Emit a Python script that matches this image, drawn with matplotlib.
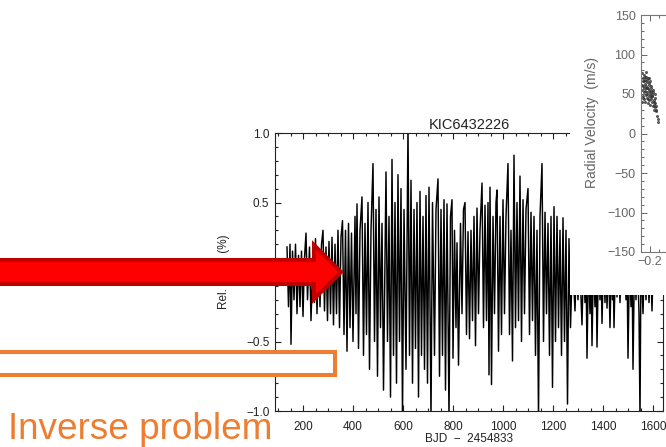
import matplotlib
matplotlib.use('Agg')
import matplotlib.pyplot as plt
from matplotlib.patches import Polygon, Rectangle
from matplotlib.ticker import MultipleLocator

plt.rcParams['font.family'] = ['Liberation Sans', 'DejaVu Sans']

W, H = 666, 447

# ---------------- data ----------------
lc_title = "KIC6432226"
lc_xlabel = "BJD  \u2212  2454833"
lc_ylabel = "Rel.  Flux  (%)"
lc_xticks = [200, 400, 600, 800, 1000, 1200, 1400, 1600]
lc_yticks = [-1.0, -0.5, 0.0, 0.5, 1.0]

bjd = [136, 142, 148, 152, 158, 164, 170, 176, 182, 188, 194, 200, 206, 212, 218, 226,
       232, 240, 246, 250, 256, 262, 268, 274, 280, 286, 292, 298, 304, 310, 316, 322,
       328, 334, 340, 346, 352, 358, 364, 370, 376, 382, 388, 394, 400, 408, 412, 416,
       422, 428, 436, 442, 448, 454, 460, 466, 472, 480, 486, 492, 498, 504, 510, 516,
       522, 532, 538, 544, 550, 556, 562, 568, 574, 580, 586, 592, 598, 604, 612, 620,
       626, 632, 638, 644, 650, 656, 662, 668, 674, 680, 686, 692, 698, 704, 712, 718,
       726, 732, 740, 746, 752, 758, 764, 770, 776, 784, 790, 796, 800, 806, 812, 816,
       822, 830, 836, 842, 848, 854, 860, 866, 872, 878, 884, 890, 896, 902, 908, 916,
       922, 928, 934, 940, 944, 948, 954, 960, 966, 972, 976, 982, 988, 994, 1000, 1006,
       1012, 1020, 1026, 1032, 1038, 1044, 1050, 1056, 1062, 1068, 1074, 1080, 1086, 1092, 1100, 1106,
       1112, 1118, 1124, 1130, 1136, 1142, 1148, 1156, 1162, 1168, 1174, 1180, 1186, 1192, 1198, 1204,
       1210, 1216, 1222, 1228, 1234, 1240, 1246, 1252, 1258, 1264, 1270,
       1278, 1288, 1294, 1300, 1306, 1316, 1322, 1328, 1332, 1336, 1342, 1348, 1352, 1356, 1362, 1368,
       1372, 1376, 1382, 1388, 1392, 1396, 1402, 1408, 1412, 1416, 1422, 1428, 1434, 1438, 1440, 1444,
       1450, 1456, 1462, 1468, 1474, 1480, 1486, 1492, 1496, 1500, 1506, 1512, 1516, 1520, 1526, 1532,
       1538, 1544, 1548, 1552, 1560, 1566, 1572, 1578, 1584, 1590, 1596, 1600]

flux = [0.18, -0.25, 0.20, -0.52, 0.15, -0.20, 0.20, -0.30, 0.12, -0.25, 0.15, -0.32, 0.10, 0.28, -0.20, 0.18,
        -0.35, 0.12, -0.22, 0.24, -0.30, 0.15, -0.25, 0.20, 0.30, -0.28, 0.18, -0.35, 0.22, -0.30, 0.25, -0.38,
        0.20, -0.30, 0.30, -0.40, 0.25, 0.37, -0.45, 0.30, -0.57, 0.35, -0.40, 0.28, -0.50, 0.40, -0.30, 0.49,
        -0.55, 0.30, 0.54, -0.60, 0.35, -0.45, 0.50, -0.70, 0.30, 0.78, -0.50, 0.45, -0.75, 0.54, -0.40, 0.35,
        -0.85, 0.72, -0.50, 0.40, -0.90, 0.81, -0.60, 0.50, -0.80, 0.70, -0.50, 0.60, -1.05, 0.45, -0.70, 1.05,
        -0.60, 0.66, -0.80, 0.45, -0.55, 0.50, -0.90, 0.58, -0.60, 0.40, -0.70, 0.55, -0.80, 0.61, -1.05, 0.50,
        -0.60, 0.45, 0.67, -0.75, 0.45, -0.60, 0.52, -0.85, 0.49, -1.05, 0.40, 0.52, -0.62, 0.30, -0.40, 0.21,
        -0.67, 0.35, -0.30, 0.45, 0.50, -0.45, 0.29, -0.48, 0.30, -0.35, 0.40, -0.53, 0.46, -0.30, 0.30, 0.64,
        -0.40, 0.48, -0.35, 0.50, -0.74, 0.61, -0.81, 0.40, -0.30, 0.50, 0.59, -0.57, 0.40, -0.45, 0.52, -0.30,
        0.40, 0.78, -0.45, 0.30, -0.64, 0.84, -0.40, 0.50, -0.35, 0.69, -0.50, 0.52, -0.30, 0.45, 0.60, -0.45,
        0.43, -0.35, 0.40, -0.60, 0.30, -1.05, 0.40, 0.78, -0.50, 0.43, -0.30, 0.35, -0.60, 0.40, -0.83, 0.47,
        -0.50, 0.40, -0.40, 0.30, -0.60, 0.39, -0.50, 0.30, -0.95, 0.24, -0.40,
        0.10, -0.28, 0.10, -0.20, 0.10, -0.38, 0.10, -0.22, 0.10, -0.62, 0.10, -0.30, 0.10, -0.53, 0.10, -0.25,
        0.10, -0.54, 0.10, -0.20, 0.10, -0.37, 0.10, -0.22, 0.10, -0.26, 0.10, -0.40, 0.10, -0.20, 0.10, -0.40,
        0.10, -0.18, 0.10, -0.22, 0.10, -0.15, 0.10, -0.20, 0.10, -0.62, 0.10, -0.25, 0.10, -0.70, 0.10, -0.20,
        0.10, -0.30, -1.05, 0.10, -0.30, 0.10, -0.20, 0.10, -0.22, 0.10, -0.28, 0.00]

rv_ylabel = "Radial Velocity  (m/s)"
rv_yticks = [-150, -100, -50, 0, 50, 100, 150]
rv_xticks = [-0.2]
rv_phase = [-0.245, -0.243, -0.241, -0.240, -0.238, -0.236, -0.235, -0.233, -0.231, -0.230,
            -0.228, -0.226, -0.225, -0.223, -0.221, -0.220, -0.218, -0.216, -0.215, -0.213,
            -0.211, -0.210, -0.208, -0.206, -0.205, -0.203, -0.201, -0.200, -0.198, -0.196,
            -0.195, -0.193, -0.190, -0.188, -0.185, -0.182, -0.180, -0.178, -0.175, -0.172,
            -0.170, -0.165, -0.160, -0.158, -0.155,
            -0.244, -0.239, -0.234, -0.229, -0.224, -0.219, -0.214, -0.209, -0.204, -0.199,
            -0.194, -0.189, -0.184, -0.179, -0.174, -0.169, -0.242, -0.237, -0.227, -0.217,
            -0.207, -0.197, -0.187, -0.177, -0.167]
rv_vel = [62, 55, 70, 48, 66, 58, 44, 74, 52, 63,
          40, 68, 57, 49, 72, 60, 45, 65, 53, 38,
          70, 58, 47, 62, 42, 55, 67, 50, 36, 60,
          46, 54, 40, 48, 35, 52, 42, 30, 45, 38,
          33, 28, 22, 18, 15,
          76, 45, 66, 54, 78, 50, 68, 44, 64, 52,
          58, 47, 55, 40, 50, 35, 40, 60, 72, 57,
          70, 44, 50, 36, 30]

slide_text = "Inverse problem"

# ---------------- figure ----------------
fig = plt.figure(figsize=(W / 100, H / 100), dpi=100)
fig.patch.set_facecolor('white')


def fx(x):
    return x / W


def fy(y):
    return 1 - y / H


# light curve panel
ax = fig.add_axes([fx(275), fy(411), (663 - 275) / W, (411 - 133) / H])
ax.plot(bjd, flux, color='black', lw=1.05)
ax.set_xlim(88, 1640)
ax.set_ylim(-1.0, 1.0)
ax.set_xticks(lc_xticks)
ax.set_yticks(lc_yticks)
ax.set_yticklabels([f"{v:.1f}".replace('-', '\u2212') for v in lc_yticks])
ax.xaxis.set_minor_locator(MultipleLocator(50))
ax.yaxis.set_minor_locator(MultipleLocator(0.1))
ax.tick_params(which='both', direction='in', top=True, right=True, colors='#222222',
               labelsize=8.5, width=0.8)
ax.tick_params(which='major', length=4.5)
ax.tick_params(which='minor', length=2.5)
ax.tick_params(axis='x', pad=7)
ax.tick_params(axis='y', pad=4)
for s in ax.spines.values():
    s.set_linewidth(0.8)
    s.set_color('#222222')
ax.set_title(lc_title, fontsize=10.5, color='#222222', pad=3)
ax.set_xlabel(lc_xlabel, fontsize=8.5, color='#222222', labelpad=0)
ax.set_ylabel(lc_ylabel, fontsize=8.5, color='#222222')
ax.yaxis.set_label_coords((230 - 275) / (663 - 275), 0.5)

# white background of the pasted RV figure
fig.add_artist(Rectangle((fx(570), fy(295)), 1.0, 1.0, transform=fig.transFigure,
                         facecolor='white', edgecolor='none', zorder=1))

# radial velocity panel
rax = fig.add_axes([fx(641), fy(252), (911 - 641) / W, (252 - 15) / H], zorder=2)
rax.patch.set_alpha(0)
rax.plot(rv_phase, rv_vel, 'o', ms=2.2, color='#333333', alpha=0.8, mew=0)
rax.set_xlim(-0.25, 1.25)
rax.set_ylim(-150, 150)
rax.set_yticks(rv_yticks)
rax.set_xticks(rv_xticks)
rax.set_xticklabels([f"{v:.1f}".replace('-', '\u2212') for v in rv_xticks])
rax.set_yticklabels([str(v).replace('-', '\u2212') for v in rv_yticks])
rax.yaxis.set_minor_locator(MultipleLocator(10))
rax.xaxis.set_minor_locator(MultipleLocator(0.05))
rax.tick_params(which='both', direction='in', top=True, right=True, colors='#666666',
                labelsize=9, width=0.7)
rax.tick_params(which='major', length=4)
rax.tick_params(which='minor', length=2)
rax.tick_params(axis='y', pad=4)
rax.tick_params(axis='x', pad=3)
for s in rax.spines.values():
    s.set_linewidth(0.8)
    s.set_color('#777777')
rax.set_ylabel(rv_ylabel, fontsize=10, color='#666666')
rax.yaxis.set_label_coords((599 - 641) / (911 - 641), (252 - 123) / (252 - 15))

# red arrow
arrow_px = [(-10, 260), (314, 260), (314, 245), (341, 272), (314, 299), (314, 284), (-10, 284)]
fig.add_artist(Polygon([(fx(x), fy(y)) for x, y in arrow_px], closed=True,
                       transform=fig.transFigure, facecolor='#FF0000', edgecolor='#C00000',
                       linewidth=2.9, joinstyle='miter', zorder=3))

# orange box
fig.add_artist(Rectangle((fx(-20), fy(375)), (335 + 20) / W, (375 - 352) / H,
                         transform=fig.transFigure, facecolor='white', edgecolor='#ED7D31',
                         linewidth=2.9, zorder=3))

fig.text(fx(8), fy(439), slide_text, fontsize=26.6, color='#ED7D31', ha='left',
         va='baseline', zorder=4)

fig.savefig('out.png', dpi=100)
